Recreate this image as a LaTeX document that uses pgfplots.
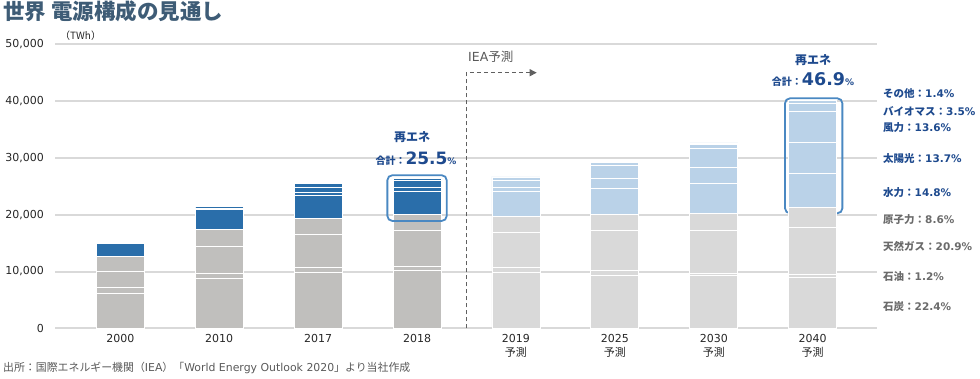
\documentclass[border=0pt]{standalone}
\usepackage{fontspec}
\setmainfont{DejaVu Sans}
\newfontfamily\jp{Noto Sans CJK JP}
\usepackage{pgfplots}
\pgfplotsset{compat=1.18}
\usepackage{pgfplotstable}
\usetikzlibrary{arrows.meta}

\definecolor{hgrey}{HTML}{C0BFBD}
\definecolor{hblue}{HTML}{2A6EAA}
\definecolor{fgrey}{HTML}{D9D9D9}
\definecolor{fblue}{HTML}{BAD2E8}
\definecolor{gridc}{HTML}{D9D9D9}
\definecolor{titlec}{HTML}{3E5C76}
\definecolor{lblue}{HTML}{1E4A8E}
\definecolor{lgrey}{HTML}{6B6B6B}
\definecolor{boxc}{HTML}{4A88C2}
\definecolor{tickc}{HTML}{262626}
\definecolor{srcc}{HTML}{595959}
\definecolor{dashc}{HTML}{606060}

% TWh by source: coal, oil, gas, nuclear, hydro, solar, wind, bioenergy, other
\pgfplotstableread{
x coal oil gas nuc hydro solar wind bio other
0 6050 1070 2850 2670 2360 0 0 0 0
1 8720 890 4860 2850 3560 30 270 270 20
2 9840 840 5870 2730 4040 580 950 610 100
3 10250 710 6180 2850 4090 710 1190 350 180
}\hist

\pgfplotstableread{
x coal oil gas nuc hydro solar wind bio other
4 9790 890 6230 2850 4380 600 1300 600 110
5 9360 790 6990 2850 4570 1780 2320 600 160
6 9260 410 7600 3020 5160 2850 3380 700 250
7 8971 481 8370 3444 5927 5487 5447 1402 561
}\fcst

\pgfplotsset{base/.style={
  at={(55pt,49.7pt)}, anchor=south west, scale only axis,
  width=822pt, height=284pt, xmin=-0.66, xmax=7.65, ymin=0, ymax=50000,
  ybar stacked, bar width=48pt, clip=false,
}}

\begin{document}
\begin{tikzpicture}
\useasboundingbox (0pt,0pt) rectangle (980pt,378pt);

\begin{axis}[base,
  axis line style={draw=none}, major tick length=0pt,
  ytick={0,10000,20000,30000,40000,50000},
  ymajorgrids, grid style={gridc, line width=2pt},
  xtick={0,...,7},
  xticklabels={2000,2010,2017,2018,{2019\\{\jp 予測}},{2025\\{\jp 予測}},{2030\\{\jp 予測}},{2040\\{\jp 予測}}},
  xticklabel style={align=center, font=\fontsize{11}{14}\selectfont, text=tickc, inner sep=0pt, yshift=-6pt},
  yticklabel style={font=\fontsize{11}{11}\selectfont, text=tickc, inner sep=0pt, xshift=-11pt},
  scaled y ticks=false,
  /pgf/number format/1000 sep={,},
  /pgf/number format/assume math mode=true,
]
\addplot[fill=hgrey, draw=white, line width=0.9pt] table[x=x,y=coal]{\hist};
\addplot[fill=hgrey, draw=white, line width=0.9pt] table[x=x,y=oil]{\hist};
\addplot[fill=hgrey, draw=white, line width=0.9pt] table[x=x,y=gas]{\hist};
\addplot[fill=hgrey, draw=white, line width=0.9pt] table[x=x,y=nuc]{\hist};
\addplot[fill=hblue, draw=white, line width=0.9pt] table[x=x,y=hydro]{\hist};
\addplot[fill=hblue, draw=white, line width=0.9pt] table[x=x,y=solar]{\hist};
\addplot[fill=hblue, draw=white, line width=0.9pt] table[x=x,y=wind]{\hist};
\addplot[fill=hblue, draw=white, line width=0.9pt] table[x=x,y=bio]{\hist};
\addplot[fill=hblue, draw=white, line width=0.9pt] table[x=x,y=other]{\hist};
\draw[dashc, line width=1pt, dash pattern=on 4pt off 3pt, -{Triangle[length=7pt,width=7pt]}]
  (axis cs:3.5,0) -- (axis cs:3.5,45000) -- (axis cs:4.21,45000);
\end{axis}

\begin{axis}[base, hide axis]
\addplot[fill=fgrey, draw=white, line width=0.9pt] table[x=x,y=coal]{\fcst};
\addplot[fill=fgrey, draw=white, line width=0.9pt] table[x=x,y=oil]{\fcst};
\addplot[fill=fgrey, draw=white, line width=0.9pt] table[x=x,y=gas]{\fcst};
\addplot[fill=fgrey, draw=white, line width=0.9pt] table[x=x,y=nuc]{\fcst};
\addplot[fill=fblue, draw=white, line width=0.9pt] table[x=x,y=hydro]{\fcst};
\addplot[fill=fblue, draw=white, line width=0.9pt] table[x=x,y=solar]{\fcst};
\addplot[fill=fblue, draw=white, line width=0.9pt] table[x=x,y=wind]{\fcst};
\addplot[fill=fblue, draw=white, line width=0.9pt] table[x=x,y=bio]{\fcst};
\addplot[fill=fblue, draw=white, line width=0.9pt] table[x=x,y=other]{\fcst};
\draw[boxc, line width=1.8pt, rounded corners=5pt] (axis cs:2.70,18900) rectangle (axis cs:3.30,26950);
\draw[boxc, line width=1.8pt, rounded corners=5pt] (axis cs:6.72,20250) rectangle (axis cs:7.30,40490);
\end{axis}

% title and texts
\node[anchor=west, inner sep=0pt, text=titlec, font=\jp\bfseries\fontsize{21.5}{21.5}\selectfont] at (3pt,367pt) {世界 電源構成の見通し};
\node[anchor=west, inner sep=0pt, text=tickc, font=\jp\fontsize{10}{10}\selectfont] at (60pt,342pt) {（TWh）};
\node[anchor=west, inner sep=0pt, text=srcc, font=\fontsize{10.9}{10.9}\selectfont] at (3pt,10pt) {{\jp 出所：国際エネルギー機関（}IEA{\jp ）「}World Energy Outlook 2020{\jp 」より当社作成}};
\node[anchor=west, inner sep=0pt, text=srcc, font=\fontsize{12.5}{12.5}\selectfont] at (468pt,321pt) {IEA{\jp 予測}};

% renewable totals
\node[inner sep=0pt, text=lblue, font=\jp\bfseries\fontsize{12}{12}\selectfont] at (412pt,241pt) {再エネ};
\node[anchor=base, inner sep=0pt, text=lblue] at (416pt,213pt) {{\jp\bfseries\fontsize{10}{10}\selectfont 合計：}{\bfseries\fontsize{17}{17}\selectfont 25.5}{\bfseries\fontsize{9}{9}\selectfont\%}};
\node[inner sep=0pt, text=lblue, font=\jp\bfseries\fontsize{12}{12}\selectfont] at (813pt,318pt) {再エネ};
\node[anchor=base, inner sep=0pt, text=lblue] at (813pt,292pt) {{\jp\bfseries\fontsize{10}{10}\selectfont 合計：}{\bfseries\fontsize{17.5}{17.5}\selectfont 46.9}{\bfseries\fontsize{9}{9}\selectfont\%}};

% right-side share labels (2040)
\begin{scope}[every node/.style={anchor=west, inner sep=0pt, font=\bfseries\fontsize{10.5}{10.5}\selectfont}]
\node[text=lblue] at (883pt,284pt) {{\jp その他：}1.4\%};
\node[text=lblue] at (883pt,267pt) {{\jp バイオマス：}3.5\%};
\node[text=lblue] at (883pt,250.7pt) {{\jp 風力：}13.6\%};
\node[text=lblue] at (883pt,219.7pt) {{\jp 太陽光：}13.7\%};
\node[text=lblue] at (883pt,185.7pt) {{\jp 水力：}14.8\%};
\node[text=lgrey] at (883pt,158.7pt) {{\jp 原子力：}8.6\%};
\node[text=lgrey] at (883pt,131.3pt) {{\jp 天然ガス：}20.9\%};
\node[text=lgrey] at (883pt,101.3pt) {{\jp 石油：}1.2\%};
\node[text=lgrey] at (883pt,71.3pt) {{\jp 石炭：}22.4\%};
\end{scope}
\end{tikzpicture}
\end{document}
